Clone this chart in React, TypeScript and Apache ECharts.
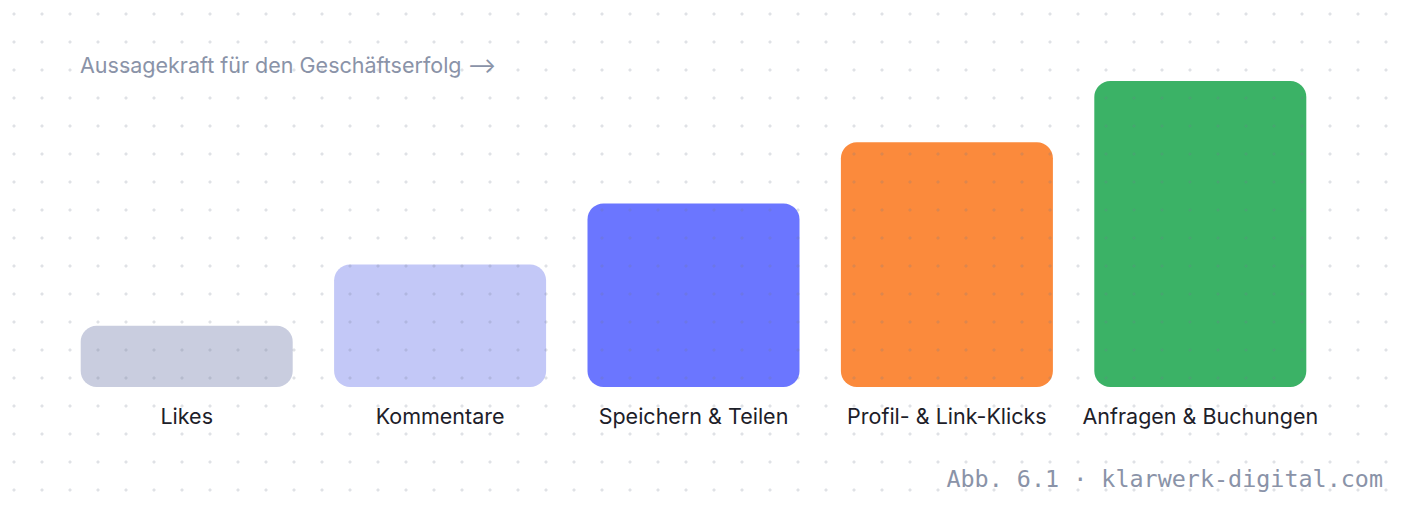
import React, { useEffect, useRef } from "react";
import * as echarts from "echarts";

const categories = ["Likes", "Kommentare", "Speichern & Teilen", "Profil- & Link-Klicks", "Anfragen & Buchungen"];
const values = [1, 2, 3, 4, 5];
const colors = ["#c9cddf", "#c3c8f7", "#6b76ff", "#fb8a3c", "#3bb266"];
const titleText = "Aussagekraft für den Geschäftserfolg ⟶";
const footerText = "Abb. 6.1 · klarwerk-digital.com";

export default function App() {
  const ref = useRef<HTMLDivElement>(null);
  useEffect(() => {
    document.body.style.margin = "0";
    const chart = echarts.init(ref.current!, undefined, { renderer: "svg" });
    chart.setOption({
      animation: false,
      title: {
        text: titleText,
        left: 80,
        top: 54,
        padding: 0,
        textStyle: { fontFamily: "Inter", fontSize: 21.5, fontWeight: 400, color: "#8a93a8" },
      },
      graphic: [
        {
          type: "text",
          right: 25,
          top: 467,
          style: {
            text: footerText,
            fontFamily: "DejaVu Sans Mono",
            fontSize: 23.4,
            fill: "#8a93a8",
          },
        },
      ],
      grid: { left: 60, right: 81, top: 81, bottom: 121 },
      xAxis: {
        type: "category",
        data: categories,
        axisLine: { show: false },
        axisTick: { show: false },
        axisLabel: { interval: 0, fontFamily: "Inter", fontSize: 21.5, color: "#1d2029", margin: 18 },
      },
      yAxis: { type: "value", min: 0, max: 5, show: false, splitLine: { show: false } },
      series: [
        {
          type: "bar",
          barWidth: 212,
          data: values.map((v, i) => ({ value: v, itemStyle: { color: colors[i] } })),
          itemStyle: { borderRadius: 16 },
        },
      ],
    });
    return () => chart.dispose();
  }, []);
  return (
    <div style={{ position: "absolute", left: 0, top: 0, width: 1408, height: 508, background: "#ffffff" }}>
      <div ref={ref} style={{ position: "absolute", left: 0, top: 0, width: 1408, height: 508 }} />
      <div
        style={{
          position: "absolute",
          left: 0,
          top: 0,
          width: 1408,
          height: 508,
          pointerEvents: "none",
          backgroundImage: "radial-gradient(circle, rgba(110,120,140,0.22) 1.3px, rgba(110,120,140,0) 1.8px)",
          backgroundSize: "28px 28px",
          backgroundPosition: "0px 0px",
        }}
      />
    </div>
  );
}
